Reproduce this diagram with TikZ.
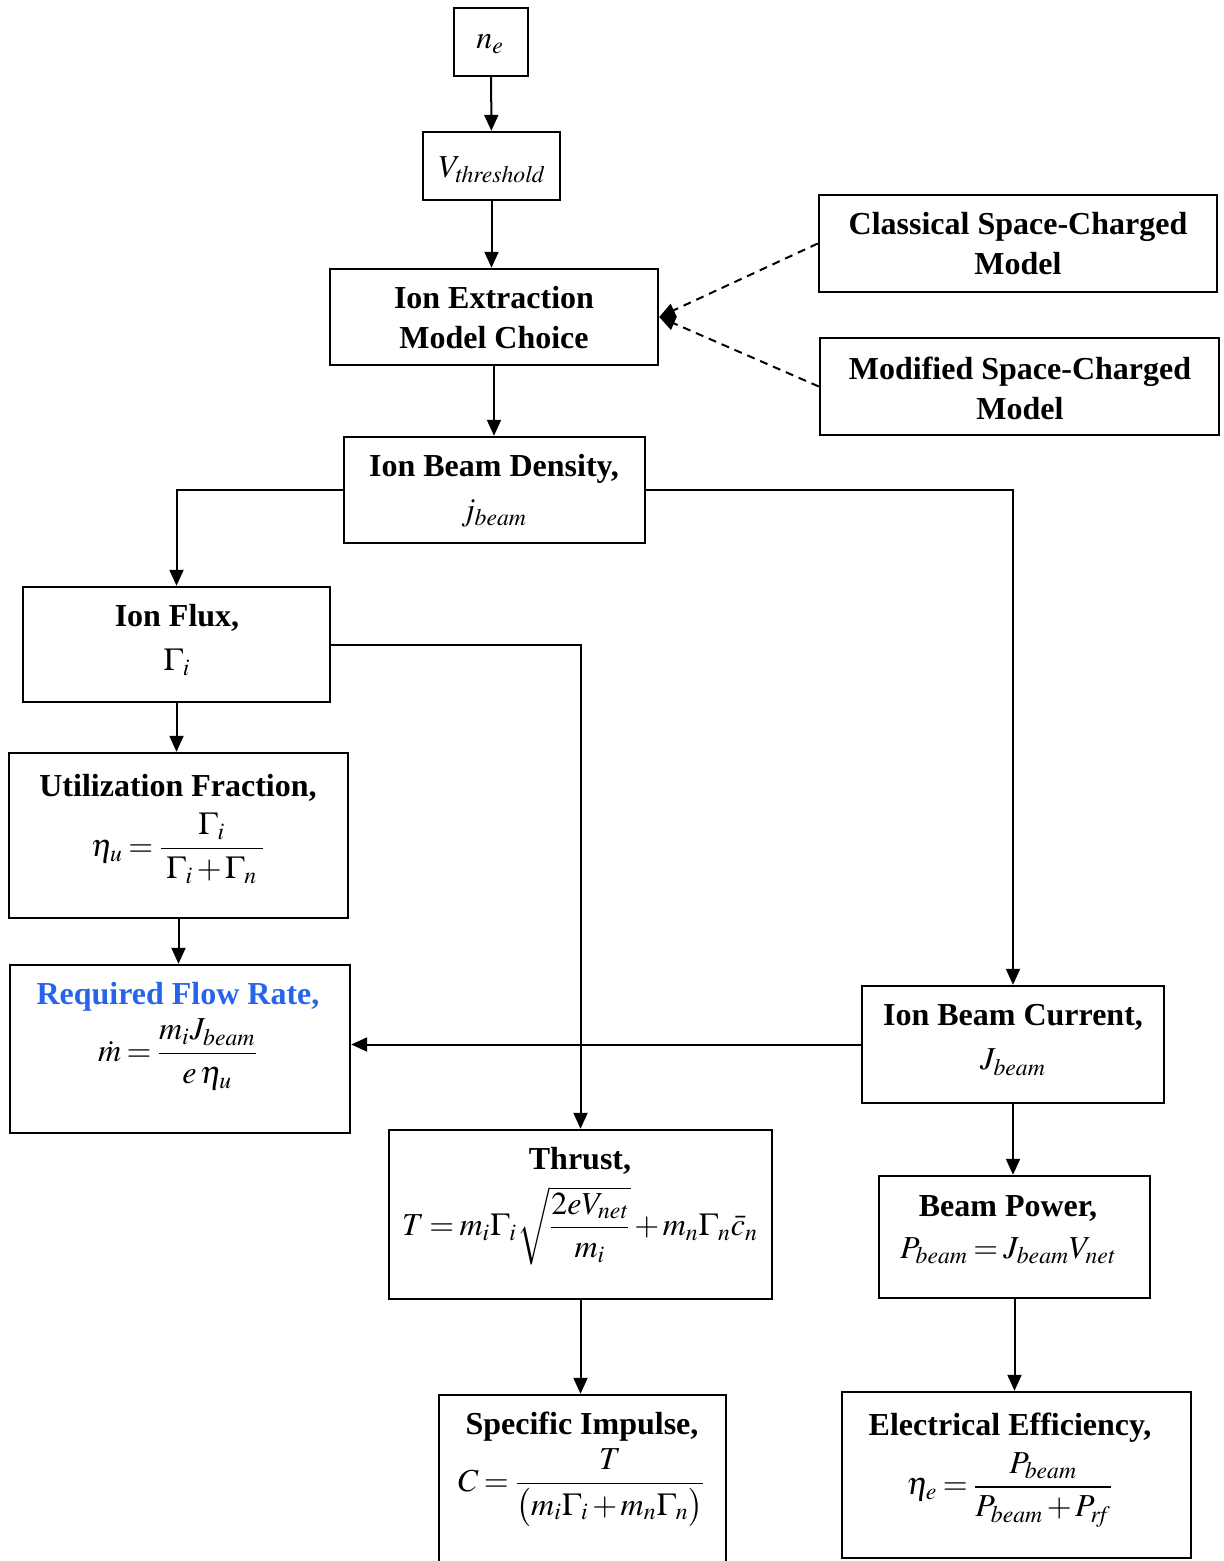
\documentclass[tikz,border=0pt]{standalone}
\usepackage{amsmath}
\usepackage{mathptmx}
\usepackage{fontspec}
\setmainfont{Liberation Serif}
\usetikzlibrary{arrows.meta}
\definecolor{titleblue}{RGB}{40,100,235}
\newcommand{\tightmath}{\thickmuskip=3mu plus 2mu\relax\medmuskip=2mu plus 1mu\relax}
\tikzset{
  box/.style={draw, line width=1.2pt, rectangle, inner sep=0pt},
  txt/.style={align=center, inner sep=0pt,
    font=\fontsize{16}{20}\selectfont\tightmath},
  conn/.style={line width=1pt, -{Triangle[length=8pt,width=7pt]}},
  dconn/.style={line width=1pt, dash pattern=on 4pt off 3pt, -{Triangle[length=8pt,width=7pt]}},
}
\newcommand{\hd}[1]{\textbf{#1}}
\begin{document}
\begin{tikzpicture}[x=0.5pt,y=-0.5pt]
\useasboundingbox (0,0) rectangle (1224,1561);
% boxes
\node[box, minimum width=37pt, minimum height=34pt] (ne) at (491,42) {};
\node[box, minimum width=68.5pt, minimum height=34pt] (vt) at (491.5,166) {};
\node[box, minimum width=164pt, minimum height=48pt] (ie) at (494,317) {};
\node[box, minimum width=199pt, minimum height=48.5pt] (cl) at (1018,243.5) {};
\node[box, minimum width=199.5pt, minimum height=48.5pt] (mo) at (1019.5,386.5) {};
\node[box, minimum width=150.5pt, minimum height=53pt] (ibd) at (494.5,490) {};
\node[box, minimum width=153.5pt, minimum height=57.5pt] (if) at (176.5,644.5) {};
\node[box, minimum width=169.5pt, minimum height=82.5pt] (uf) at (178.5,835.5) {};
\node[box, minimum width=170pt, minimum height=84pt] (rfr) at (180,1049) {};
\node[box, minimum width=151pt, minimum height=58.5pt] (ibc) at (1013,1044.5) {};
\node[box, minimum width=191.5pt, minimum height=84.5pt] (th) at (580.5,1214.5) {};
\node[box, minimum width=135.5pt, minimum height=61pt] (bp) at (1014.5,1237) {};
\node[box, minimum width=143.5pt, minimum height=92.5pt] (si) at (582.5,1487.5) {};
\node[box, minimum width=174.5pt, minimum height=83pt] (ee) at (1016.5,1475) {};
% texts
\node[txt] (neT) at (490,44) {$n_e$};
\node[txt] (vtT) at (492,170) {$V_{\mathit{threshold}}$};
\node[txt] (ieT) at (494,318) {\hd{Ion Extraction}\\\hd{Model Choice}};
\node[txt] (clT) at (1018,244) {\hd{Classical Space-Charged}\\\hd{Model}};
\node[txt] (moT) at (1020,388) {\hd{Modified Space-Charged}\\\hd{Model}};
\node[txt] (ibdT) at (494,491) {\hd{Ion Beam Density,}\\[2pt] $j_{\mathit{beam}}$};
\node[txt] (ifT) at (177,640) {\hd{Ion Flux,}\\[2pt] $\Gamma_i$};
\node[txt] (ufT) at (178,829) {\hd{Utilization Fraction,}\\[5pt] $\eta_u = \dfrac{\;\Gamma_i\;}{\;\Gamma_i+\Gamma_n\;}$};
\node[txt] (rfrT) at (178,1036) {\textcolor{titleblue}{\hd{Required Flow Rate,}}\\[3pt] $\dot m = \dfrac{m_i J_{\mathit{beam}}}{e\,\eta_u}$};
\node[txt] (ibcT) at (1013,1040) {\hd{Ion Beam Current,}\\[2pt] $J_{\mathit{beam}}$};
\node[txt] (thT) at (580,1206) {\hd{Thrust,}\\[5pt] $T = m_i\Gamma_i\sqrt{\dfrac{2eV_{\mathit{net}}}{m_i}} + m_n\Gamma_n\bar{c}_n$};
\node[txt] (bpT) at (1008,1230) {\hd{Beam Power,}\\[1pt] $P_{\mathit{beam}} = J_{\mathit{beam}}V_{\mathit{net}}$};
\node[txt] (siT) at (582,1469) {\hd{Specific Impulse,}\\[3pt] $C = \dfrac{T}{\bigl(m_i\Gamma_i + m_n\Gamma_n\bigr)}$};
\node[txt] (eeT) at (1010,1470) {\hd{Electrical Efficiency,}\\[4pt] $\eta_e = \dfrac{P_{\mathit{beam}}}{P_{\mathit{beam}}+P_{\mathit{rf}}}$};

\draw[conn] (ne) -- (vt);
\draw[conn] (vt) -- (vt |- ie.north);
\draw[conn] (ie.south) -- (ie.south |- ibd.north);
\draw[dconn] (cl.west) -- (ie.east);
\draw[dconn] (mo.west) -- (ie.east);
\draw[conn] (ibd.west) -| (if.north);
\draw[conn] (ibd.east) -| (ibc.north);
\draw[conn] (if.south) -- (if.south |- uf.north);
\draw[conn] (uf.south) -- (uf.south |- rfr.north);
\draw[conn] (if.east) -| (th.north);
\draw[conn] (ibc.west) -- (ibc.west -| rfr.east);
\draw[conn] (ibc.south) -- (ibc.south |- bp.north);
\draw[conn] (th.south) -- (th.south |- si.north);
\draw[conn] (bp.south) -- (bp.south |- ee.north);
\end{tikzpicture}
\end{document}
